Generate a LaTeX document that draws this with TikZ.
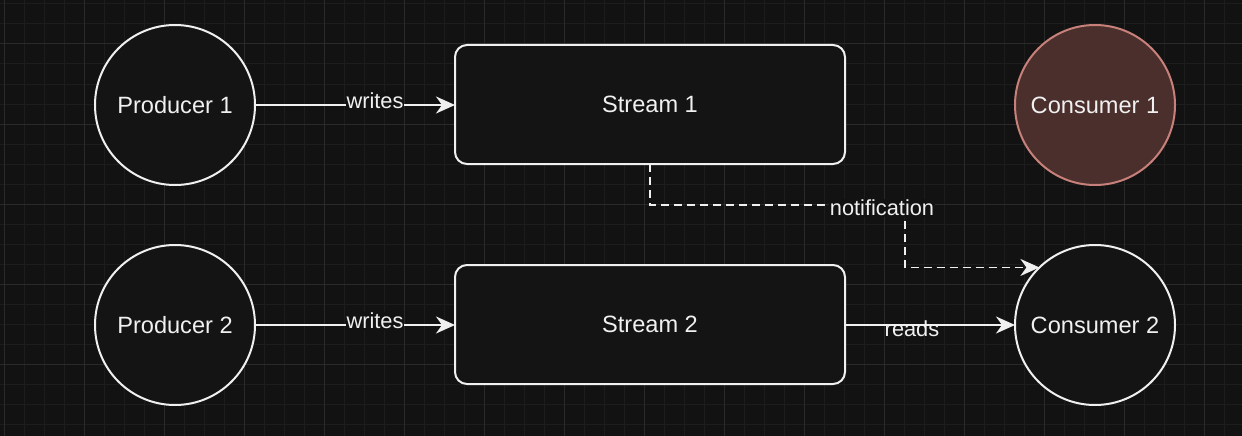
\documentclass[tikz,border=0pt]{standalone}
\usepackage{fontspec}
\setmainfont{Liberation Sans}
\usetikzlibrary{arrows.meta}
\definecolor{bg}{HTML}{121212}
\definecolor{gminor}{HTML}{1D1D1D}
\definecolor{gmajor}{HTML}{2A2A2A}
\definecolor{fg}{HTML}{F0F0F0}
\definecolor{nodefill}{HTML}{141414}
\definecolor{c1fill}{HTML}{4A2F2D}
\definecolor{c1line}{HTML}{C8817A}
\tikzset{
  circ/.style={circle, draw=fg, fill=nodefill, line width=2pt, minimum size=160pt, inner sep=0pt, outer sep=0pt, text=fg, font=\fontsize{23.6}{28}\selectfont},
  streambox/.style={rectangle, rounded corners=12pt, draw=fg, fill=nodefill, line width=2pt, minimum width=390pt, minimum height=119pt, inner sep=0pt, outer sep=0pt, text=fg, font=\fontsize{23.6}{28}\selectfont},
  conn/.style={draw=fg, line width=1.8pt, -{Stealth[length=19pt, width=17pt, inset=6pt]}},
  lbl/.style={text=fg, font=\fontsize{21.8}{26}\selectfont, inner sep=1pt},
  lblbg/.style={lbl, fill=bg}
}
\begin{document}
\begin{tikzpicture}[x=1pt, y=-1pt]
\useasboundingbox (0,0) rectangle (1242,436);
\fill[bg] (0,0) rectangle (1242,436);
\foreach \x in {4,24,...,1244} \draw[gminor, line width=1pt] (\x,0) -- (\x,436);
\foreach \y in {4,24,...,436} \draw[gminor, line width=1pt] (0,\y) -- (1242,\y);
\foreach \x in {4,84,...,1244} \draw[gmajor, line width=1pt] (\x,0) -- (\x,436);
\foreach \y in {44,124,...,436} \draw[gmajor, line width=1pt] (0,\y) -- (1242,\y);

\node[circ] (p1) at (175,105) {Producer 1};
\node[circ] (p2) at (175,325) {Producer 2};
\node[streambox] (s1) at (650,104.5) {Stream 1};
\node[streambox] (s2) at (650,324.5) {Stream 2};
\node[circ, fill=c1fill, draw=c1line] (c1) at (1095,105) {Consumer 1};
\node[circ] (c2) at (1095,325) {Consumer 2};

\path[conn] (p1) -- (s1.west |- p1);
\path[conn] (p2) -- (s2.west |- p2);
\path[conn] (s2.east |- c2) -- (c2);
\node[lblbg] (w1) at (375,101) {writes};
\node[lblbg] (w2) at (375,321) {writes};
\node[lbl] (rd) at (912,329) {reads};

\coordinate (nt) at (905,235);
\path[conn, dash pattern=on 8pt off 5pt] (s1.south) -- ++(0,41) -| (nt) |- (c2.134);
\node[lblbg] (nl) at (882,208) {notification};
\end{tikzpicture}
\end{document}
